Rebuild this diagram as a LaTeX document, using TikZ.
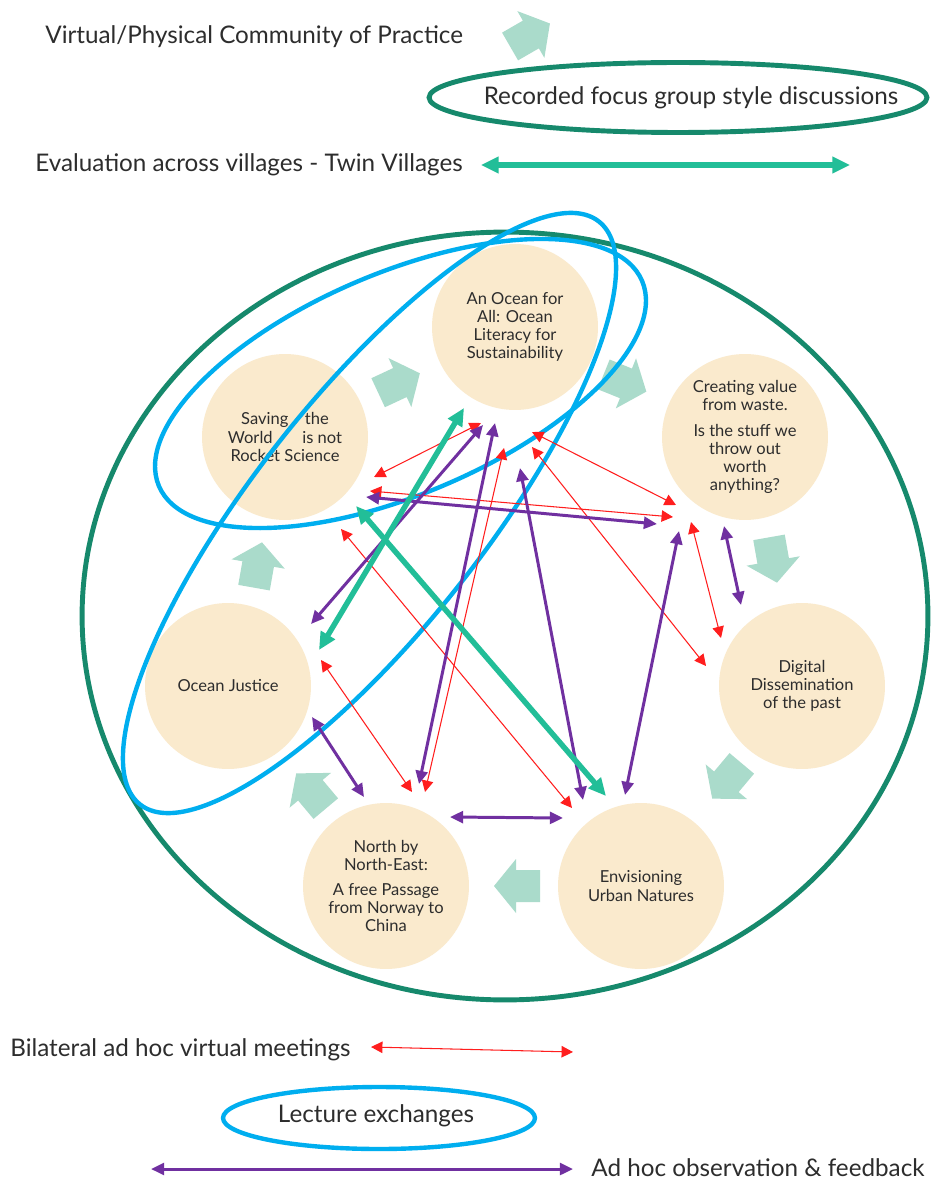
\documentclass[tikz,border=0pt]{standalone}
\usepackage{fontspec}
\setmainfont{Lato}
\usetikzlibrary{arrows.meta}
\definecolor{dkgreen}{RGB}{22,137,108}
\definecolor{tealc}{RGB}{34,190,152}
\definecolor{mint}{RGB}{170,219,203}
\definecolor{beige}{RGB}{250,234,205}
\definecolor{skyblue}{RGB}{0,174,239}
\definecolor{purp}{RGB}{112,48,160}
\definecolor{redarr}{RGB}{255,30,30}
\definecolor{txt}{RGB}{45,45,45}
\begin{document}
\begin{tikzpicture}[x=0.02cm,y=0.02cm,
  circ/.style={circle,fill=beige,minimum size=3.32cm,inner sep=0pt,align=center,text=txt,font=\fontsize{9.4}{10.3}\selectfont},
  legend/.style={text=txt,font=\fontsize{13.8}{16}\selectfont,inner sep=0pt},
  redline/.style={draw=redarr,line width=0.6pt,{Triangle[length=6.5pt,width=6.5pt]}-{Triangle[length=6.5pt,width=6.5pt]}},
  purpline/.style={draw=purp,line width=1.7pt,{Triangle[length=7.5pt,width=6.8pt]}-{Triangle[length=7.5pt,width=6.8pt]}},
  tealline/.style={draw=tealc,line width=3.1pt,{Triangle[length=10pt,width=9pt]}-{Triangle[length=10pt,width=9pt]}},
  blueell/.style={draw=skyblue,line width=2.5pt},
  greenell/.style={draw=dkgreen,line width=2.8pt},
  blk/.pic={\fill[mint] (-23,-16) -- (1,-16) -- (1,-27) -- (23,0) -- (1,27) -- (1,16) -- (-23,16) -- cycle;}
]
\fill[white] (0,0) rectangle (931,-1182);
\useasboundingbox (0,0) rectangle (931,-1182);

% legend top
\node[legend,anchor=west] (lgvirt) at (45,-37) {Virtual/Physical Community of Practice};
\pic[rotate=30] at (530,-35) {blk};
\draw[greenell] (678,-97.5) ellipse [x radius=4.98cm, y radius=0.70cm];
\node[legend] (lgrec) at (691,-98) {Recorded focus group style discussions};
\node[legend,anchor=west] (lgeval) at (35,-165) {Evaluation across villages - Twin Villages};
\coordinate (lgtA) at (481,-165);
\coordinate (lgtB) at (850,-165);
\draw[tealline] (lgtA) -- (lgtB);

% outer ellipse
\draw[greenell] (505,-616) ellipse [x radius=8.46cm, y radius=7.68cm];

% circles
\node[circ] (ocean) at (515,-327) {An Ocean for\\All: Ocean\\Literacy for\\Sustainability};
\node[circ] (saving) at (285,-437) {Saving\hspace{1em}the\\World\hspace{1.8em}is not\\Rocket Science};
\node[circ] (creating) at (745,-437) {Creating value\\from waste.\\[4pt]Is the stuff we\\throw out\\worth\\anything?};
\node[circ] (justice) at (228,-686) {Ocean Justice};
\node[circ] (digital) at (802,-686) {Digital\\Dissemination\\of the past};
\node[circ] (north) at (386,-886) {North by\\North-East:\\[4pt]A free Passage\\from Norway to\\China};
\node[circ] (urban) at (641,-886) {Envisioning\\Urban Natures};

% block arrows (flow)
\pic[rotate=25] at (399,-383) {blk};
\pic[rotate=-22] at (625,-383) {blk};
\pic[rotate=-80] at (773,-560) {blk};
\pic[rotate=230] at (727,-781) {blk};
\pic[rotate=180] at (517,-886) {blk};
\pic[rotate=130] at (311,-791) {blk};
\pic[rotate=80] at (258,-565) {blk};

% blue lecture ellipses
\draw[blueell, rotate around={23:(400.5,-383.5)}] (400.5,-383.5) ellipse [x radius=5.25cm, y radius=2.214cm];
\draw[blueell, rotate around={51.8:(369.5,-513)}] (369.5,-513) ellipse [x radius=7.42cm, y radius=2.30cm];

% endpoints
\coordinate (r1a) at (481,-423); \coordinate (r1b) at (374,-477);
\coordinate (r2a) at (532,-432); \coordinate (r2b) at (676,-505);
\coordinate (r3a) at (370,-491); \coordinate (r3b) at (673,-517);
\coordinate (r4a) at (532,-447); \coordinate (r4b) at (706,-666);
\coordinate (r5a) at (691,-522); \coordinate (r5b) at (721,-638);
\coordinate (r6a) at (504,-448); \coordinate (r6b) at (425,-792);
\coordinate (r7a) at (341,-529); \coordinate (r7b) at (572,-808);
\coordinate (r8a) at (321,-660); \coordinate (r8b) at (412,-792);
\coordinate (p1a) at (366,-497); \coordinate (p1b) at (657,-524);
\coordinate (p2a) at (483,-425); \coordinate (p2b) at (311,-624);
\coordinate (p3a) at (495,-423); \coordinate (p3b) at (419,-784);
\coordinate (p4a) at (520,-468); \coordinate (p4b) at (583,-800);
\coordinate (p5a) at (679,-531); \coordinate (p5b) at (625,-795);
\coordinate (p6a) at (724,-526); \coordinate (p6b) at (741,-605);
\coordinate (p7a) at (312,-717); \coordinate (p7b) at (364,-797);
\coordinate (p8a) at (450,-817); \coordinate (p8b) at (563,-818);
\coordinate (t1a) at (464,-408); \coordinate (t1b) at (319,-650);
\coordinate (t2a) at (356,-506); \coordinate (t2b) at (606,-796);

\draw[redline] (r1a) -- (r1b);
\draw[redline] (r2a) -- (r2b);
\draw[redline] (r3a) -- (r3b);
\draw[redline] (r4a) -- (r4b);
\draw[redline] (r5a) -- (r5b);
\draw[redline] (r6a) -- (r6b);
\draw[redline] (r7a) -- (r7b);
\draw[redline] (r8a) -- (r8b);
\draw[purpline] (p1a) -- (p1b);
\draw[purpline] (p2a) -- (p2b);
\draw[purpline] (p3a) -- (p3b);
\draw[purpline] (p4a) -- (p4b);
\draw[purpline] (p5a) -- (p5b);
\draw[purpline] (p6a) -- (p6b);
\draw[purpline] (p7a) -- (p7b);
\draw[purpline] (p8a) -- (p8b);
\draw[tealline] (t1a) -- (t1b);
\draw[tealline] (t2a) -- (t2b);

% legend bottom
\node[legend,anchor=west] (lgbil) at (10,-1050) {Bilateral ad hoc virtual meetings};
\coordinate (lgrA) at (371,-1047);
\coordinate (lgrB) at (573,-1052);
\draw[redline] (lgrA) -- (lgrB);
\draw[blueell] (379,-1118) ellipse [x radius=3.12cm, y radius=0.62cm];
\node[legend] (lglec) at (376,-1116) {Lecture exchanges};
\coordinate (lgpA) at (151,-1169);
\coordinate (lgpB) at (573,-1169);
\draw[purpline] (lgpA) -- (lgpB);
\node[legend,anchor=west] (lgadhoc) at (591,-1168) {Ad hoc observation \& feedback};
\end{tikzpicture}
\end{document}
